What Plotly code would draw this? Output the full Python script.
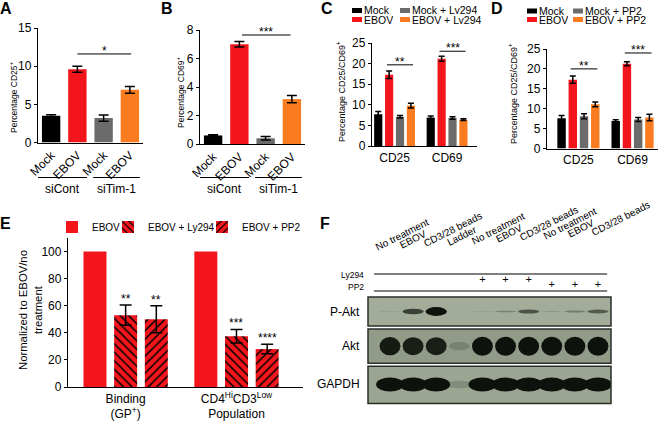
import plotly.graph_objects as go

FONT = "Arial, Liberation Sans, sans-serif"
W, H = 660, 421

# ---------------- data ----------------
a_labels = ["Mock", "EBOV", "Mock", "EBOV"]
a_values = [3.5, 9.6, 3.2, 6.9]
a_errors = [0.15, 0.4, 0.4, 0.45]
group_labels = ["siCont", "siTim-1"]
a_sig = "*"

b_labels = ["Mock", "EBOV", "Mock", "EBOV"]
b_values = [0.6, 7.0, 0.4, 3.15]
b_errors = [0.05, 0.2, 0.12, 0.25]
b_sig = "***"

markers = ["CD25", "CD69"]
c_names = ["Mock", "EBOV", "Mock + Ly294", "EBOV + Ly294"]
c_mock = [7.7, 6.9]
c_mock_err = [0.7, 0.4]
c_ebov = [17.3, 21.2]
c_ebov_err = [0.9, 0.6]
c_mock_ly = [7.1, 6.8]
c_mock_ly_err = [0.3, 0.3]
c_ebov_ly = [9.8, 6.4]
c_ebov_ly_err = [0.6, 0.2]
c_sig = ["**", "***"]

d_names = ["Mock", "EBOV", "Mock + PP2", "EBOV + PP2"]
d_mock = [7.6, 6.9]
d_mock_err = [0.7, 0.3]
d_ebov = [17.3, 21.3]
d_ebov_err = [0.9, 0.5]
d_mock_pp2 = [8.1, 7.3]
d_mock_pp2_err = [0.6, 0.5]
d_ebov_pp2 = [11.1, 7.8]
d_ebov_pp2_err = [0.6, 0.8]
d_sig = ["**", "***"]

e_categories = ["Binding<br>(GP<sup>+</sup>)", "CD4<sup>Hi</sup>CD3<sup>Low</sup><br>Population"]
e_names = ["EBOV", "EBOV + Ly294", "EBOV + PP2"]
e_ebov = [100, 100]
e_ly294 = [53, 37.5]
e_ly294_err = [7.5, 5.0]
e_pp2 = [50, 28]
e_pp2_err = [10, 3.5]
e_ly294_sig = ["**", "***"]
e_pp2_sig = ["**", "****"]

f_lanes = ["No treatment", "EBOV", "CD3/28 beads", "Ladder", "No treatment", "EBOV",
           "CD3/28 beads", "No treatment", "EBOV", "CD3/28 beads"]
f_ly294 = [0, 0, 0, 0, 1, 1, 1, 0, 0, 0]
f_pp2 = [0, 0, 0, 0, 0, 0, 0, 1, 1, 1]
f_rows = ["P-Akt", "Akt", "GAPDH"]
f_pakt = [0.04, 0.55, 1.0, 0.0, 0.04, 0.12, 0.4, 0.05, 0.15, 0.35]
f_akt = [0.9, 0.85, 0.85, 0.06, 1.0, 1.0, 1.0, 1.0, 1.0, 1.0]
f_gapdh = [1.0, 1.0, 1.0, 0.05, 1.0, 1.0, 1.0, 1.0, 1.0, 1.0]

# ---------------- style ----------------
BLACK, RED, GRAY, ORANGE = "#000000", "#f2161c", "#6b6b6b", "#fa7b20"
COLORS4 = [BLACK, RED, GRAY, ORANGE]
BARGAP, BARGROUPGAP = 0.17, 0.25


def px(x):
    return x / W


def py(y):
    return 1 - y / H


def axis(domain, **kw):
    d = dict(domain=domain, showline=True, linecolor="black", linewidth=1.3,
             showgrid=False, zeroline=False, ticks="outside", ticklen=3,
             tickwidth=1.2, tickcolor="black", fixedrange=True, automargin=False,
             tickfont=dict(family=FONT, size=12, color="black"))
    d.update(kw)
    return d


def err(arr, w=4):
    return dict(type="data", array=arr, color="black", thickness=1.5, width=w)


def offset(i, n):
    return (i - (n - 1) / 2) * (1 - BARGAP) / n


fig = go.Figure()
shapes = []
annotations = []


def text(t, x, y, size=12, xref="paper", yref="paper", **kw):
    a = dict(text=t, x=x, y=y, xref=xref, yref=yref, showarrow=False,
             xanchor="center", yanchor="middle",
             font=dict(family=FONT, size=size, color="black"))
    a.update(kw)
    annotations.append(a)


# ---------------- panels A & B ----------------
for ax, vals, errs, labels, sig, sig_y, sig_x, ytitle, ytitle_pos in [
    ("", a_values, a_errors, a_labels, a_sig, 11.6, (1.0, 3.05), "Percentage CD25<sup>+</sup>", (13, 97)),
    ("2", b_values, b_errors, b_labels, b_sig, 7.65, (1.1, 2.95), "Percentage CD69<sup>+</sup>", (180, 92)),
]:
    xs = list(range(len(vals)))
    fig.add_trace(go.Bar(x=xs, y=vals, width=0.7, marker=dict(color=COLORS4, line=dict(width=0)),
                         error_y=err(errs, 5), xaxis="x" + ax, yaxis="y" + ax, showlegend=False))
    shapes.append(dict(type="line", xref="x" + ax, yref="y" + ax, x0=sig_x[0], x1=sig_x[1],
                       y0=sig_y, y1=sig_y, line=dict(color="black", width=1)))
    text(sig, (sig_x[0] + sig_x[1]) / 2, sig_y, size=12, xref="x" + ax, yref="y" + ax,
         yanchor="bottom", yshift=-6)
    for g, (lo, hi) in enumerate([(-0.5, 1.37), (1.6, 3.38)]):
        shapes.append(dict(type="line", xref="x" + ax, yref="paper", x0=lo, x1=hi,
                           y0=py(177.5), y1=py(177.5), line=dict(color="black", width=1)))
        text(group_labels[g], (lo + hi) / 2, py(188.5), size=12, xref="x" + ax)
    text(ytitle, px(ytitle_pos[0]), py(ytitle_pos[1]), size=8.5, textangle=-90)

# ---------------- panels C & D ----------------
for ax, series, names, errs_list, sig, sig_y, ytitle_pos, legend_pos in [
    ("3", [c_mock, c_ebov, c_mock_ly, c_ebov_ly], c_names,
     [c_mock_err, c_ebov_err, c_mock_ly_err, c_ebov_ly_err], c_sig, [19.7, 23.0], (341, 92),
     (352, 400, 10.5, 19.5)),
    ("4", [d_mock, d_ebov, d_mock_pp2, d_ebov_pp2], d_names,
     [d_mock_err, d_ebov_err, d_mock_pp2_err, d_ebov_pp2_err], d_sig, [20.0, 24.0], (513, 94),
     (527, 573, 11, 19.5)),
]:
    xs = list(range(len(markers)))
    for i, (vals, errs) in enumerate(zip(series, errs_list)):
        fig.add_trace(go.Bar(x=xs, y=vals, name=names[i], marker=dict(color=COLORS4[i], line=dict(width=0)),
                             error_y=err(errs, 3), xaxis="x" + ax, yaxis="y" + ax, showlegend=False))
    for k, x in enumerate(xs):
        x0 = x + offset(1, 4) - 0.04
        x1 = x + offset(3, 4) + 0.04
        shapes.append(dict(type="line", xref="x" + ax, yref="y" + ax, x0=x0, x1=x1,
                           y0=sig_y[k], y1=sig_y[k], line=dict(color="black", width=1)))
        text(sig[k], (x0 + x1) / 2, sig_y[k], size=12, xref="x" + ax, yref="y" + ax,
             yanchor="bottom", yshift=-6)
    text("Percentage CD25/CD69<sup>+</sup>", px(ytitle_pos[0]), py(ytitle_pos[1]), size=9, textangle=-90)
    # legend (2 x 2)
    col_x = [legend_pos[0], legend_pos[1]]
    row_y = [legend_pos[2], legend_pos[3]]
    for i, name in enumerate(names):
        cx = col_x[i // 2]
        ry = row_y[i % 2]
        shapes.append(dict(type="rect", xref="paper", yref="paper", x0=px(cx), x1=px(cx + 10),
                           y0=py(ry + 2.5), y1=py(ry - 2.5), fillcolor=COLORS4[i], line=dict(width=0)))
        text(name, px(cx + 11), py(ry), size=10.5, xanchor="left", height=8, borderpad=0)

# ---------------- panel E ----------------
e_x = list(range(len(e_categories)))
fig.add_trace(go.Bar(x=e_x, y=e_ebov, name=e_names[0], marker=dict(color=RED, line=dict(width=0)),
                     xaxis="x5", yaxis="y5", legend="legend"))
fig.add_trace(go.Bar(x=e_x, y=e_ly294, name=e_names[1], error_y=err(e_ly294_err, 6),
                     marker=dict(color=RED, line=dict(width=0),
                                 pattern=dict(shape="\\", fgcolor="black", bgcolor=RED, size=6, solidity=0.25)),
                     xaxis="x5", yaxis="y5", legend="legend2"))
fig.add_trace(go.Bar(x=e_x, y=e_pp2, name=e_names[2], error_y=err(e_pp2_err, 6),
                     marker=dict(color=RED, line=dict(width=0),
                                 pattern=dict(shape="/", fgcolor="black", bgcolor=RED, size=6, solidity=0.25)),
                     xaxis="x5", yaxis="y5", legend="legend3"))
for k, x in enumerate(e_x):
    text(e_ly294_sig[k], x + offset(1, 3), e_ly294[k] + e_ly294_err[k], size=12, xref="x5", yref="y5",
         yanchor="bottom", yshift=-3)
    text(e_pp2_sig[k], x + offset(2, 3), e_pp2[k] + e_pp2_err[k], size=12, xref="x5", yref="y5",
         yanchor="bottom", yshift=-3)
text("Normalized to EBOV/no<br>treatment", px(30), py(310), size=11.3, textangle=-90)

# ---------------- panel F (western blot) ----------------
lanes = list(range(1, len(f_lanes) + 1))
row_center = [0.0, 0.95, 2.0]
row_box = [(-0.4, 0.4), (0.48, 1.42), (1.5, 2.52)]
row_bg = ["#a3ac98", "#919b88", "#9ca591"]
band_hw = [0.46, 0.45, 0.6]
band_hh = [0.12, 0.26, 0.19]
band_exp = [0.8, 0.3, 0.2]
for r, (y0, y1) in enumerate(row_box):
    shapes.append(dict(type="rect", xref="x6 domain", yref="y6", x0=0, x1=1, y0=y0, y1=y1,
                       fillcolor=row_bg[r], line=dict(width=0)))
for r, intens in enumerate([f_pakt, f_akt, f_gapdh]):
    for lane, v in zip(lanes, intens):
        if v <= 0:
            continue
        hh = band_hh[r] * v ** band_exp[r]
        shapes.append(dict(type="circle", xref="x6", yref="y6",
                           x0=lane - band_hw[r], x1=lane + band_hw[r],
                           y0=row_center[r] - hh, y1=row_center[r] + hh,
                           fillcolor="rgba(13,18,12,%.2f)" % min(1.0, v ** 0.6), line=dict(width=0)))
for r, (y0, y1) in enumerate(row_box):
    shapes.append(dict(type="rect", xref="x6 domain", yref="y6", x0=0, x1=1, y0=y0, y1=y1,
                       line=dict(color="#2b2f2a", width=1.5)))
    text(f_rows[r], px(362), row_center[r], size=12, yref="y6", xanchor="right")

for yv in [-1.027, -0.562]:
    shapes.append(dict(type="line", xref="x6 domain", yref="y6", x0=0.025, x1=0.984, y0=yv, y1=yv,
                       line=dict(color="black", width=1)))
text("Ly294", px(366), -1.0, size=8.5, yref="y6", xanchor="right")
text("PP2", px(366), -0.68, size=8.5, yref="y6", xanchor="right")
for flags, yv in [(f_ly294, -0.85), (f_pp2, -0.72)]:
    sel = [l for l, f in zip(lanes, flags) if f]
    fig.add_trace(go.Scatter(x=sel, y=[yv] * len(sel), mode="text", text=["+"] * len(sel),
                             textfont=dict(family=FONT, size=11, color="black"),
                             xaxis="x6", yaxis="y6", showlegend=False, hoverinfo="skip"))

# lane labels: rotated, starting just left of each lane, along a slightly rising baseline
for k, name in enumerate(f_lanes):
    sx = 377 + 24.0 * k
    sy = 252 - 1.55 * k
    text(name, px(sx - 6), py(sy + 3), size=10, textangle=-27, xanchor="left", yanchor="bottom")

# panel letters
for letter, (lx, ly) in zip("ABCDEF", [(6, 9), (167, 9), (327, 9), (497, 9), (5, 223), (325, 223)]):
    text("<b>%s</b>" % letter, px(lx), py(ly), size=16)

# ---------------- layout ----------------
rot_ticks = dict(tickangle=-45, ticks="")
legend_common = dict(orientation="h", yanchor="middle", bgcolor="rgba(0,0,0,0)",
                     font=dict(family=FONT, size=10, color="black"), itemwidth=30)
fig.update_layout(
    template="none",
    width=W, height=H, margin=dict(l=0, r=0, t=0, b=0, autoexpand=False),
    paper_bgcolor="white", plot_bgcolor="white",
    barmode="group", bargap=BARGAP, bargroupgap=BARGROUPGAP,
    font=dict(family=FONT, color="black"),
    xaxis=axis([px(38), px(143)], range=[-0.5, 3.5], tickvals=[0, 1, 2, 3], ticktext=a_labels, anchor="y", **rot_ticks),
    yaxis=axis([py(142.5), py(28)], range=[0, 15], tickvals=[0, 5, 10, 15], anchor="x"),
    xaxis2=axis([px(200), px(305)], range=[-0.5, 3.5], tickvals=[0, 1, 2, 3], ticktext=b_labels, anchor="y2", **rot_ticks),
    yaxis2=axis([py(144), py(30)], range=[0, 8], tickvals=[0, 2, 4, 6, 8], anchor="x2"),
    xaxis3=axis([px(372), px(477)], range=[-0.43, 1.57], tickvals=[0, 1], ticktext=markers, ticks="", anchor="y3"),
    yaxis3=axis([py(146), py(43)], range=[0, 25], tickvals=[0, 5, 10, 15, 20, 25], anchor="x3"),
    xaxis4=axis([px(547), px(658)], range=[-0.58, 1.47], tickvals=[0, 1], ticktext=markers, ticks="", anchor="y4"),
    yaxis4=axis([py(148.5), py(49)], range=[0, 25], tickvals=[0, 5, 10, 15, 20, 25], anchor="x4"),
    xaxis5=axis([px(68), px(303)], range=[-0.52, 1.6], tickvals=e_x, ticktext=e_categories, ticks="", anchor="y5"),
    yaxis5=axis([py(387), py(238)], range=[0, 110], tickvals=[0, 20, 40, 60, 80, 100], anchor="x5"),
    xaxis6=dict(domain=[px(368), px(611)], range=[0.048, 10.563], visible=False, anchor="y6",
                fixedrange=True, automargin=False),
    yaxis6=dict(domain=[py(405), py(230)], range=[2.562, -2.233], visible=False, anchor="x6",
                fixedrange=True, automargin=False),
    legend=dict(x=px(52), y=py(227), **legend_common),
    legend2=dict(x=px(108), y=py(227), **legend_common),
    legend3=dict(x=px(202), y=py(227), **legend_common),
    shapes=shapes, annotations=annotations,
)

fig.write_html("out.html", config={"displayModeBar": False},
               post_script="document.body.style.margin='0px';document.body.style.overflow='hidden';")
